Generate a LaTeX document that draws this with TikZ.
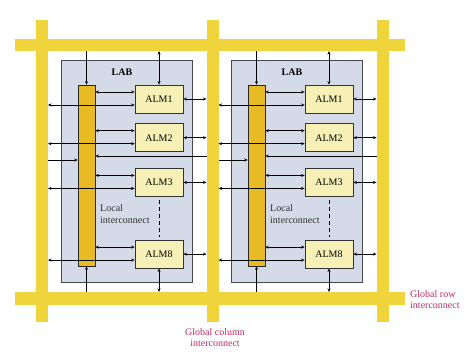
\documentclass[tikz,border=0pt]{standalone}
\usepackage{fontspec}
\setmainfont{Liberation Serif}
\usetikzlibrary{arrows.meta,calc,positioning}
\definecolor{barYellow}{RGB}{240,212,60}
\definecolor{liGold}{RGB}{232,186,36}
\definecolor{almFill}{RGB}{246,240,182}
\definecolor{labFill}{RGB}{213,218,232}
\definecolor{labEdge}{RGB}{70,72,84}
\definecolor{noteRed}{RGB}{192,44,92}
\tikzset{
  gbar/.style={
    fill=barYellow,
    inner sep=0pt,
    outer sep=0pt
  },
  labbox/.style={
    draw=labEdge,
    fill=labFill,
    line width=0.7pt,
    inner sep=0pt,
    minimum width=131pt,
    minimum height=222pt
  },
  libar/.style={
    draw=black!85,
    fill=liGold,
    line width=0.6pt,
    inner sep=0pt,
    minimum width=17pt,
    minimum height=181pt
  },
  almbox/.style={
    draw=black!80,
    fill=almFill,
    line width=0.7pt,
    inner sep=0pt,
    minimum width=48pt,
    minimum height=28pt,
    font=\fontsize{10}{12}\selectfont
  },
  sig/.style={
    line width=0.6pt,
    >={Stealth[length=3.5pt,width=3pt]}
  },
  note/.style={
    text=noteRed,
    inner sep=0pt,
    font=\fontsize{10}{11}\selectfont
  }
}

\begin{document}
\begin{tikzpicture}[x=1pt,y=-1pt]
    \useasboundingbox (0,0) rectangle (474,356);
    % global column interconnect
    \foreach \c/\x in {0/42,1/212.5,2/382.5}
        \node[gbar, minimum width=12pt, minimum height=302pt] (col\c) at (\x,171) {};
    % global row interconnect
    \node[gbar, minimum width=390pt, minimum height=12pt] (rowT) at (210,45) {};
    \node[gbar, minimum width=390pt, minimum height=13pt] (rowB) at (210,298.5) {};
    % the two LABs
    \foreach \i/\dx/\l/\r in {1/0/0/1, 2/170/1/2}{
    \begin{scope}[xshift=\dx pt]
        \node[labbox] (lab\i) at (126.5,171) {};
        \node[inner sep=0pt, font=\bfseries\fontsize{10}{12}\selectfont] (labtxt\i) at (122,72) {LAB};
        \node[libar] (li\i) at (86.5,175.5) {};
        \node[almbox] (alm-\i-1) at (159,99) {ALM1};
        \node[almbox, below=10pt of alm-\i-1] (alm-\i-2) {ALM2};
        \node[almbox, below=16pt of alm-\i-2] (alm-\i-3) {ALM3};
        \node[almbox, below=43pt of alm-\i-3] (alm-\i-8) {ALM8};
        \node[anchor=west, align=left, inner sep=0pt, text=black!80,
              font=\fontsize{10}{12}\selectfont] (litxt\i) at (100,214) {Local\\interconnect};
        \draw[sig, dash pattern=on 4pt off 3pt, shorten <=3pt, shorten >=3pt]
            (alm-\i-3.south) -- (alm-\i-8.north);
        % ALM connections
        \foreach \k in {1,2,3,8}{
            \coordinate (up) at ($(alm-\i-\k.west)+(0,-7)$);
            \coordinate (lo) at ($(alm-\i-\k.west)+(0,6)$);
            \draw[sig,<->] (li\i.east |- up) -- (up);
            \draw[sig,<->] (col\l.east |- lo) -- (lo);
            \draw[sig,<->] (alm-\i-\k.east) -- (col\r.west |- alm-\i-\k.east);
        }
        % column lines into the local interconnect
        \coordinate (feedR\i) at (0,156);
        \coordinate (feedL\i) at (0,160);
        \draw[sig,->] (col\r.west |- feedR\i) -- (li\i.east |- feedR\i);
        \draw[sig,->] (col\l.east |- feedL\i) -- (li\i.west |- feedL\i);
        % row lines
        \draw[sig,->] (li\i.north |- rowT.south) -- (li\i.north);
        \draw[sig,<->] (alm-\i-1.north |- rowT.south) -- (alm-\i-1.north);
        \draw[sig,->] (li\i.south |- rowB.north) -- (li\i.south);
        \draw[sig,<->] (alm-\i-8.south) -- (alm-\i-8.south |- rowB.north);
    \end{scope}
    }
    \node[note, anchor=west, align=left] (rowlbl) at (410,299.5) {Global row\\interconnect};
    \node[note, align=center] (collbl) at (215,338) {Global column\\interconnect};
\end{tikzpicture}
\end{document}
